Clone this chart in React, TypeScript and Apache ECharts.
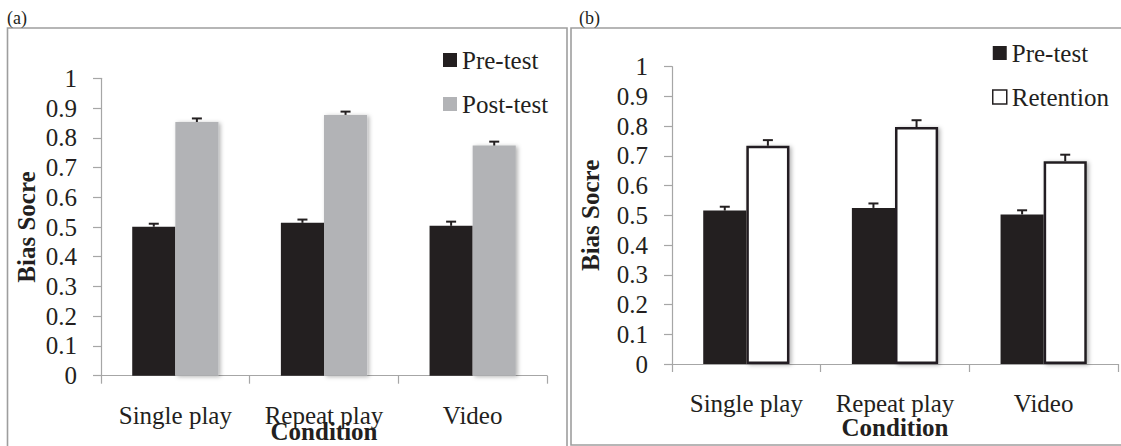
import React, { useEffect, useRef } from "react";
import * as echarts from "echarts";

const categories = ["Single play", "Repeat play", "Video"];
const yTicks = [0, 0.1, 0.2, 0.3, 0.4, 0.5, 0.6, 0.7, 0.8, 0.9, 1];

// Panel (a)
const aPre = [0.501, 0.514, 0.504];
const aPreErr = [0.01, 0.011, 0.014];
const aPost = [0.853, 0.877, 0.774];
const aPostErr = [0.012, 0.011, 0.013];

// Panel (b)
const bPre = [0.516, 0.525, 0.503];
const bPreErr = [0.013, 0.015, 0.014];
const bRet = [0.734, 0.797, 0.682];
const bRetErr = [0.019, 0.023, 0.022];

const FONT = "Liberation Serif, Times New Roman, serif";
const TXT = "#231f20";
const BLACK = "#231f20";
const GRAY = "#b2b3b6";
const AXIS = "#a6a6a6";
const FS = 25;
const BAR_W = 0.29;

function errSeries(name: string, vals: number[], errs: number[], side: number, idx: number) {
  return {
    type: "custom",
    name: name + "-err",
    xAxisIndex: idx,
    yAxisIndex: idx,
    z: 10,
    silent: true,
    data: vals.map((v, i) => [i, v, v + errs[i]]),
    renderItem: (params: any, api: any) => {
      const base = api.coord([api.value(0), api.value(1)]);
      const top = api.coord([api.value(0), api.value(2)]);
      const band = api.size([1, 0])[0];
      const cx = base[0] + side * band * BAR_W * 0.5;
      const style = { stroke: BLACK, lineWidth: 2 };
      return {
        type: "group",
        children: [
          { type: "line", shape: { x1: cx, y1: base[1], x2: cx, y2: top[1] }, style },
          { type: "line", shape: { x1: cx - 5, y1: top[1], x2: cx + 5, y2: top[1] }, style },
        ],
      };
    },
  };
}

function xAxisCfg(idx: number, gap: number) {
  return {
    type: "category",
    gridIndex: idx,
    data: categories,
    name: "Condition",
    nameLocation: "middle",
    nameGap: gap,
    nameMoveOverlap: false,
    nameTextStyle: { fontFamily: FONT, fontSize: FS, fontWeight: "bold", color: TXT },
    axisLine: { lineStyle: { color: AXIS, width: 1.2 } },
    axisTick: { show: true, inside: false, length: 8, lineStyle: { color: AXIS, width: 1.2 } },
    axisLabel: { fontFamily: FONT, fontSize: FS, color: TXT, margin: 27, interval: 0, hideOverlap: false },
    splitLine: { show: false },
  };
}

function yAxisCfg(idx: number, gap: number) {
  return {
    type: "value",
    gridIndex: idx,
    min: 0,
    max: 1,
    interval: 0.1,
    name: "Bias Socre",
    nameLocation: "middle",
    nameGap: gap,
    nameMoveOverlap: false,
    nameRotate: 90,
    nameTextStyle: { fontFamily: FONT, fontSize: FS, fontWeight: "bold", color: TXT },
    axisLine: { show: true, lineStyle: { color: AXIS, width: 1.2 } },
    axisTick: { show: true, inside: false, length: 8, lineStyle: { color: AXIS, width: 1.2 } },
    axisLabel: {
      fontFamily: FONT,
      fontSize: FS,
      color: TXT,
      margin: 24,
      formatter: (v: number) => {
        const t = yTicks.find((k) => Math.abs(k - v) < 1e-6);
        return String(t !== undefined ? t : +v.toFixed(1));
      },
    },
    splitLine: { show: false },
  };
}

export default function App() {
  const ref = useRef<HTMLDivElement>(null);
  useEffect(() => {
    if (!ref.current) return;
    const chart = echarts.init(ref.current, null, { renderer: "svg" });
    const shadow = {
      shadowBlur: 4,
      shadowOffsetX: 2,
      shadowOffsetY: 1,
      shadowColor: "rgba(0,0,0,0.3)",
    };
    const legendText = { fontFamily: FONT, fontSize: FS, color: TXT, lineHeight: 26 };
    chart.setOption({
      animation: false,
      backgroundColor: "#ffffff",
      textStyle: { fontFamily: FONT },
      grid: [
        { left: 101, top: 78.3, width: 446, height: 297.4, containLabel: false, outerBoundsMode: "none" },
        { left: 672, top: 66.7, width: 446, height: 297.3, containLabel: false, outerBoundsMode: "none" },
      ],
      xAxis: [xAxisCfg(0, 43), xAxisCfg(1, 51)],
      yAxis: [yAxisCfg(0, 62), yAxisCfg(1, 69)],
      legend: [
        {
          left: 443,
          top: 47,
          padding: 0,
          orient: "vertical",
          itemWidth: 14,
          itemHeight: 14,
          itemGap: 18,
          icon: "rect",
          textStyle: legendText,
          data: [
            { name: "Pre-test", itemStyle: { color: BLACK, borderWidth: 0 } },
            { name: "Post-test", itemStyle: { color: GRAY, borderWidth: 0 } },
          ],
          selectedMode: false,
        },
        {
          left: 992,
          top: 40,
          padding: 0,
          orient: "vertical",
          itemWidth: 14,
          itemHeight: 14,
          itemGap: 18,
          icon: "rect",
          textStyle: legendText,
          data: [
            { name: "Pre-test", itemStyle: { color: BLACK, borderWidth: 0 } },
            { name: "Retention", itemStyle: { color: "#ffffff", borderColor: BLACK, borderWidth: 1.5 } },
          ],
          selectedMode: false,
        },
      ],
      graphic: [
        {
          type: "rect",
          shape: { x: 7.5, y: 28, width: 559.5, height: 440 },
          style: { fill: "none", stroke: "#9e9e9e", lineWidth: 1.6 },
          silent: true,
        },
        {
          type: "rect",
          shape: { x: 571, y: 28, width: 570, height: 417 },
          style: { fill: "none", stroke: "#9e9e9e", lineWidth: 1.6 },
          silent: true,
        },
        {
          type: "text",
          left: 7,
          top: 9,
          style: { text: "(a)", fontFamily: FONT, fontSize: 18, fill: TXT },
        },
        {
          type: "text",
          left: 579,
          top: 9,
          style: { text: "(b)", fontFamily: FONT, fontSize: 18, fill: TXT },
        },
      ],
      series: [
        {
          type: "bar",
          name: "Pre-test",
          xAxisIndex: 0,
          yAxisIndex: 0,
          data: aPre,
          barWidth: "29%",
          barGap: "0%",
          itemStyle: { color: BLACK },
        },
        {
          type: "bar",
          name: "Post-test",
          xAxisIndex: 0,
          yAxisIndex: 0,
          data: aPost,
          barWidth: "29%",
          barGap: "0%",
          itemStyle: { color: GRAY, ...shadow },
        },
        {
          type: "bar",
          name: "Pre-test",
          xAxisIndex: 1,
          yAxisIndex: 1,
          data: bPre,
          barWidth: "29%",
          barGap: "0%",
          itemStyle: { color: BLACK },
        },
        {
          type: "bar",
          name: "Retention",
          xAxisIndex: 1,
          yAxisIndex: 1,
          data: bRet,
          barWidth: "29%",
          barGap: "0%",
          itemStyle: { color: "#ffffff", borderColor: BLACK, borderWidth: 2.5, ...shadow },
        },
        errSeries("Pre-test-a", aPre, aPreErr, -1, 0),
        errSeries("Post-test-a", aPost, aPostErr, 1, 0),
        errSeries("Pre-test-b", bPre, bPreErr, -1, 1),
        errSeries("Retention-b", bRet, bRetErr, 1, 1),
      ],
    });
    return () => chart.dispose();
  }, []);
  return (
    <div
      ref={ref}
      style={{ position: "absolute", left: 0, top: 0, width: 1121, height: 446, background: "#fff" }}
    />
  );
}
